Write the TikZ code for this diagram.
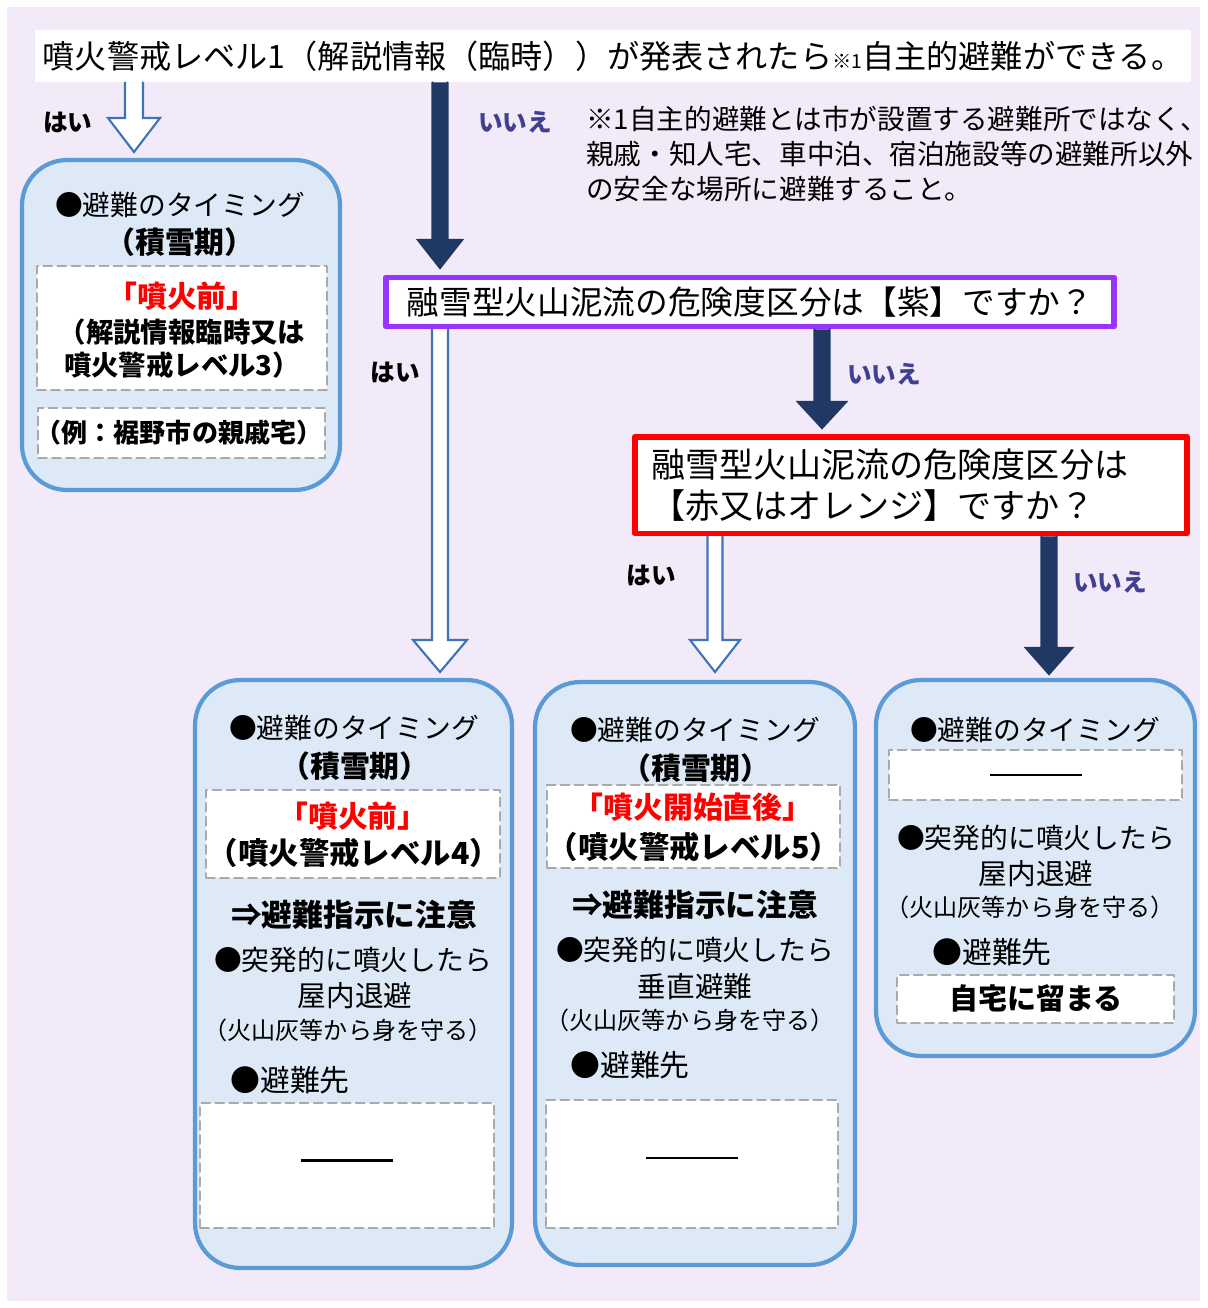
\documentclass[tikz,border=0pt]{standalone}
\usepackage{fontspec}
\setmainfont{Noto Sans CJK JP}
\usetikzlibrary{calc}
\definecolor{bgpurple}{RGB}{242,234,249}
\definecolor{panelfill}{RGB}{221,233,247}
\definecolor{panelblue}{RGB}{91,155,213}
\definecolor{navy}{RGB}{31,56,100}
\definecolor{nocolor}{RGB}{64,64,144}
\definecolor{slotgray}{RGB}{170,170,170}
\definecolor{yesblue}{RGB}{60,115,185}
\definecolor{qpurple}{RGB}{153,51,255}
% block arrow: fill, line colour, start, tip, shaft half width, head half width, head length
\newcommand\blockarrow[7]{%
  \fill[#1] ($(#3)+(-#5,0)$) -- ($(#4)+(-#5,-#7)$) -- ($(#4)+(-#6,-#7)$) -- (#4) -- ($(#4)+(#6,-#7)$) -- ($(#4)+(#5,-#7)$) -- ($(#3)+(#5,0)$) -- cycle;
  \draw[#2, line width=1.2pt, line join=miter] ($(#3)+(-#5,0)$) -- ($(#4)+(-#5,-#7)$) -- ($(#4)+(-#6,-#7)$) -- (#4) -- ($(#4)+(#6,-#7)$) -- ($(#4)+(#5,-#7)$) -- ($(#3)+(#5,0)$);
}
\tikzset{
  panel/.style={draw=panelblue, fill=panelfill, line width=2.4pt, rounded corners=0.9cm, inner sep=0},
  slot/.style={draw=slotgray, fill=white, line width=1.1pt, dash pattern=on 5pt off 3pt, inner sep=0},
  body/.style={font=\fontsize{15.8}{19}\selectfont, inner sep=0},
  head/.style={font=\fontsize{17}{20}\selectfont\bfseries, inner sep=0},
  warn/.style={head, text=red},
  small/.style={font=\fontsize{13.7}{16}\selectfont, inner sep=0},
  act/.style={font=\fontsize{17.5}{20}\selectfont\bfseries, inner sep=0},
  dest/.style={font=\fontsize{17}{20}\selectfont, inner sep=0},
  yeslab/.style={font=\fontsize{14}{16}\selectfont\bfseries, inner sep=0},
  nolab/.style={yeslab, text=nocolor}
}
\begin{document}
\begin{tikzpicture}[x=0.02cm, y=-0.02cm, line join=round, line cap=round]
\useasboundingbox (0,0) rectangle (1207,1308);
\fill[bgpurple] (7,7) rectangle (1200,1301);

% questions
\node[fill=white, minimum width=23.14cm, minimum height=1.04cm, inner sep=0, font=\fontsize{18.3}{20}\selectfont] (title) at (613,56)
  {噴火警戒レベル1（解説情報（臨時））が発表されたら{\fontsize{11}{12}\selectfont ※1}自主的避難ができる。};
\node[anchor=north west, align=left, inner sep=0, font=\fontsize{15.7}{19.9}\selectfont] (note) at (586,106)
  {※1自主的避難とは市が設置する避難所ではなく、\\親戚・知人宅、車中泊、宿泊施設等の避難所以外\\の安全な場所に避難すること。};
\node[draw=qpurple, fill=white, line width=3.4pt, minimum width=14.56cm, minimum height=0.98cm, font=\fontsize{18.6}{22}\selectfont] (q1) at (750,302)
  {融雪型火山泥流の危険度区分は【紫】ですか？};
\node[draw=red, fill=white, line width=3.4pt, minimum width=11.04cm, minimum height=1.94cm, text width=10.4cm, align=left, font=\fontsize{19.4}{23}\selectfont] (q2) at (911,485)
  {融雪型火山泥流の危険度区分は\\【赤又はオレンジ】ですか？};

% arrows
\coordinate (t1) at (134,152);
\blockarrow{white}{yesblue}{title.south -| t1}{t1}{9}{26}{34}
\coordinate (t2) at (440,268);
\blockarrow{navy}{navy}{title.south -| t2}{t2}{7.5}{22}{28}
\coordinate (t3) at (440,672);
\blockarrow{white}{yesblue}{q1.south -| t3}{t3}{8}{27}{32}
\coordinate (t4) at (822,428);
\blockarrow{navy}{navy}{q1.south -| t4}{t4}{7.5}{24}{26}
\coordinate (t5) at (715,672);
\blockarrow{white}{yesblue}{q2.south -| t5}{t5}{7.5}{25}{32}
\coordinate (t6) at (1049,674);
\blockarrow{navy}{navy}{q2.south -| t6}{t6}{7.5}{23}{26}

\node[yeslab] (y1) at (68,122) {はい};
\node[nolab] (n1) at (515,122) {いいえ};
\node[yeslab] (y2) at (395,372) {はい};
\node[nolab] (n2) at (884,374) {いいえ};
\node[yeslab] (y3) at (651,575) {はい};
\node[nolab] (n3) at (1110,582) {いいえ};

% left panel
\node[panel, minimum width=6.36cm, minimum height=6.6cm] (pL) at (181,325) {};
\node[slot, minimum width=5.8cm, minimum height=2.48cm] (sL1) at (182,328) {};
\node[slot, minimum width=5.74cm, minimum height=1.0cm] (sL2) at (181.5,433) {};
\node[body] (L1) at (180,205) {●避難のタイミング};
\node[head] (L2) at (180,242) {（積雪期）};
\node[warn] (L3) at (182,296) {「噴火前」};
\node[head, font=\fontsize{15.6}{18}\selectfont\bfseries] (L4) at (182,332) {（解説情報臨時又は};
\node[head, font=\fontsize{15.6}{18}\selectfont\bfseries] (L5) at (182,365) {噴火警戒レベル3）};
\node[head, font=\fontsize{14.8}{17}\selectfont\bfseries] (L6) at (179,433) {（例：裾野市の親戚宅）};

% panel A
\node[panel, minimum width=6.34cm, minimum height=11.76cm] (pA) at (353.5,974) {};
\node[slot, minimum width=5.88cm, minimum height=1.76cm] (sA1) at (353,834) {};
\node[slot, minimum width=5.88cm, minimum height=2.5cm] (sA2) at (347,1165.5) {};
\node[body] (A1) at (354,728) {●避難のタイミング};
\node[head] (A2) at (355,766) {（積雪期）};
\node[warn] (A3) at (353,816) {「噴火前」};
\node[head, font=\fontsize{17.3}{20}\selectfont\bfseries] (A4) at (354,853) {（噴火警戒レベル4）};
\node[act] (A5) at (354,915) {⇒避難指示に注意};
\node[body] (A6) at (353,960) {●突発的に噴火したら};
\node[body, font=\fontsize{16.3}{19}\selectfont] (A7) at (355,996) {屋内退避};
\node[small] (A8) at (348,1030) {（火山灰等から身を守る）};
\node[dest] (A9) at (290,1080) {●避難先};
\draw[line width=1.6pt, line cap=butt] ($(sA2.center)+(-46,-5)$) -- ($(sA2.center)+(46,-5)$);

% panel B
\node[panel, minimum width=6.4cm, minimum height=11.66cm] (pB) at (695,973.5) {};
\node[slot, minimum width=5.86cm, minimum height=1.66cm] (sB1) at (693.5,826.5) {};
\node[slot, minimum width=5.84cm, minimum height=2.56cm] (sB2) at (692,1164) {};
\node[body] (B1) at (695,730) {●避難のタイミング};
\node[head] (B2) at (696,768) {（積雪期）};
\node[warn] (B3) at (693,807) {「噴火開始直後」};
\node[head, font=\fontsize{17.3}{20}\selectfont\bfseries] (B4) at (694,847) {（噴火警戒レベル5）};
\node[act] (B5) at (695,905) {⇒避難指示に注意};
\node[body] (B6) at (695,950) {●突発的に噴火したら};
\node[body, font=\fontsize{16.3}{19}\selectfont] (B7) at (695,987) {垂直避難};
\node[small] (B8) at (690,1020) {（火山灰等から身を守る）};
\node[dest] (B9) at (630,1065) {●避難先};
\draw[line width=1.6pt, line cap=butt] ($(sB2.center)+(-46,-6)$) -- ($(sB2.center)+(46,-6)$);

% panel C
\node[panel, minimum width=6.38cm, minimum height=7.52cm] (pC) at (1035.5,868) {};
\node[slot, minimum width=5.86cm, minimum height=1.0cm] (sC1) at (1035.5,775) {};
\node[slot, minimum width=5.54cm, minimum height=0.96cm] (sC2) at (1035.5,999) {};
\node[body] (C1) at (1035,730) {●避難のタイミング};
\draw[line width=1.6pt, line cap=butt] ($(sC1.center)+(-46,0)$) -- ($(sC1.center)+(46,0)$);
\node[body] (C2) at (1036,838) {●突発的に噴火したら};
\node[body, font=\fontsize{16.3}{19}\selectfont] (C3) at (1036,874) {屋内退避};
\node[small] (C4) at (1030,907) {（火山灰等から身を守る）};
\node[dest] (C5) at (992,952) {●避難先};
\node[head, font=\fontsize{16.5}{19}\selectfont\bfseries] (C6) at (1036,998) {自宅に留まる};
\end{tikzpicture}
\end{document}
